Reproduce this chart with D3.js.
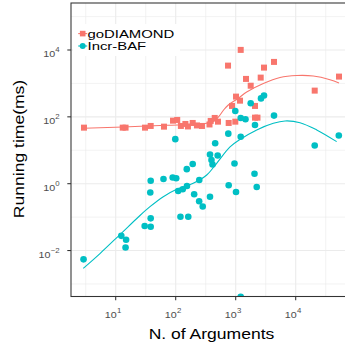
<!DOCTYPE html>
<html><head><meta charset="utf-8">
<script src="https://cdn.jsdelivr.net/npm/d3@7"></script>
<style>body{margin:0;background:#fff}svg{display:block}</style>
</head><body>
<svg id="c" width="345" height="349"></svg>
<script>
// ---- data ----
const seriesNames = ["goDIAMOND", "Incr-BAF"];
const seriesColors = ["#F8766D", "#00BFC4"];

const goDiamondPoints = [
  [2.96,47.5],[13.1,47.5],[14.6,47.5],[30.8,47.5],[38.3,53.4],[63.8,50.9],[90.2,76.9],[106,80.7],
  [122,53.4],[145,61.3],[160,51.6],[192,65.6],[226,55.3],[274,53.4],[366,59.2],[383,75.4],
  [447,92.7],[507,71.8],[745,3410],[764,65.6],[868,212],[985,71.8],[1012,403],[1180,305],
  [1212,10070],[1485,1364],[1778,853],[2097,212],[2097,94.6],[2307,94.6],[2610,1492],
  [2963,2972],[4350,4400],[20740,609],[52700,1600]
];
const incrBafPoints = [
  [2.91,0.00545],[12.4,0.0275],[14.9,0.021],[14.6,0.0123],[30.4,0.0542],[38.3,0.0516],[38.3,0.092],
  [37.7,0.545],[38.3,1.23],[62.6,1.38],[89.1,1.53],[102,1.45],[98.5,21.5],[110,0.604],[120,0.103],
  [131,0.679],[154,0.853],[153,2.72],[162,0.103],[192,3.89],[203,0.482],[247,1.29],[246,0.297],
  [282,0.207],[373,0.408],[373,7.48],[395,5.13],[411,3.76],[455,16.2],[501,6.98],[753,31.4],
  [764,0.895],[955,4.03],[985,150],[1012,0.564],[1212,25.5],[1212,92.7],[1212,0.000414],
  [1456,84.7],[1778,255],[2097,57.2],[2058,1.99],[2240,0.797],[2641,356],[2963,437],[4350,109],
  [20740,13.9],[52300,27.7]
];
// smoothed fits
const goDiamondFit = [
  [2.96,45.4],[13.4,49.7],[70.8,55.9],[210,59.9],[373,66.4],[435,73.6],[488,89.3],[548,113.6],
  [638,166],[753,226],[1105,359],[1525,554],[2884,995],[5474,1504],[10390,1726],[19650,1668],
  [37300,1293],[52700,1030]
];
const incrBafFit = [
  [2.88,0.00293],[5.47,0.00813],[11.8,0.0301],[25.4,0.112],[37.3,0.205],[62.1,0.408],[104,0.679],
  [196,1.03],[329,1.82],[482,4.08],[804,12.6],[1180,21.0],[2240,40.6],[4240,64.3],[6640,75.3],
  [11800,67.0],[22400,40.6],[48200,18.1]
];

const xTicks = [10, 100, 1000, 10000];
const xTickExp = ["1", "2", "3", "4"];
const xMinor = [Math.pow(10,0.5), Math.pow(10,1.5), Math.pow(10,2.5), Math.pow(10,3.5), Math.pow(10,4.5)];
const yTicks = [0.01, 1, 100, 10000];
const yTickExp = ["\u22122", "0", "2", "4"];
const yMinor = [0.001, 0.1, 10, 1000, 100000];

const xTitle = "N. of Arguments";
const yTitle = "Running time(ms)";

// ---- layout ----
const L = 71, R = 351.8, T = 3, B = 296.5;
const SX = 1.17; // horizontal text stretch to match the reference face

const svg = d3.select("#c");
const x = d3.scaleLog().domain([Math.pow(10,0.255), Math.pow(10,4.935)]).range([L, R]);
const y = d3.scaleLog().domain([Math.pow(10,-3.375), Math.pow(10,5.406)]).range([B, T]);

svg.append("defs").append("clipPath").attr("id","pc")
  .append("rect").attr("x",L).attr("y",T).attr("width",R-L).attr("height",B-T);

const grid = svg.append("g");
grid.selectAll(".xm").data(xMinor).join("line")
  .attr("x1",d=>x(d)).attr("x2",d=>x(d)).attr("y1",T).attr("y2",B)
  .attr("stroke","#EBEBEB").attr("stroke-width",0.6);
grid.selectAll(".ym").data(yMinor).join("line")
  .attr("y1",d=>y(d)).attr("y2",d=>y(d)).attr("x1",L).attr("x2",R)
  .attr("stroke","#EBEBEB").attr("stroke-width",0.6);
grid.selectAll(".xM").data(xTicks).join("line")
  .attr("x1",d=>x(d)).attr("x2",d=>x(d)).attr("y1",T).attr("y2",B)
  .attr("stroke","#EBEBEB").attr("stroke-width",1.1);
grid.selectAll(".yM").data(yTicks).join("line")
  .attr("y1",d=>y(d)).attr("y2",d=>y(d)).attr("x1",L).attr("x2",R)
  .attr("stroke","#EBEBEB").attr("stroke-width",1.1);

const panel = svg.append("g").attr("clip-path","url(#pc)");
panel.selectAll(".sq").data(goDiamondPoints).join("rect")
  .attr("x",d=>x(d[0])-3).attr("y",d=>y(d[1])-3).attr("width",6).attr("height",6)
  .attr("fill",seriesColors[0]);
panel.selectAll(".ci").data(incrBafPoints).join("circle")
  .attr("cx",d=>x(d[0])).attr("cy",d=>y(d[1])).attr("r",3.3)
  .attr("fill",seriesColors[1]);
const line = d3.line().x(d=>x(d[0])).y(d=>y(d[1])).curve(d3.curveCatmullRom.alpha(0.5));
panel.append("path").attr("d",line(goDiamondFit)).attr("fill","none")
  .attr("stroke",seriesColors[0]).attr("stroke-width",1.1);
panel.append("path").attr("d",line(incrBafFit)).attr("fill","none")
  .attr("stroke",seriesColors[1]).attr("stroke-width",1.1);

svg.append("rect").attr("x",L).attr("y",T).attr("width",R-L).attr("height",B-T)
  .attr("fill","none").attr("stroke","#333333").attr("stroke-width",1.07);

const font = "'Liberation Sans', Arial, Helvetica, sans-serif";
svg.selectAll(".xt").data(xTicks).join("line")
  .attr("x1",d=>x(d)).attr("x2",d=>x(d)).attr("y1",B).attr("y2",B+3.7)
  .attr("stroke","#333333").attr("stroke-width",1.07);
svg.selectAll(".yt").data(yTicks).join("line")
  .attr("y1",d=>y(d)).attr("y2",d=>y(d)).attr("x1",L-3.7).attr("x2",L)
  .attr("stroke","#333333").attr("stroke-width",1.07);

xTicks.forEach((t,i)=>{
  const g = svg.append("g").attr("transform",`translate(${x(t)+1},318) scale(1.12,1)`);
  g.append("text").attr("text-anchor","end").attr("font-family",font).attr("font-size",9.6)
    .attr("fill","#4D4D4D").text("10");
  g.append("text").attr("x",0.2).attr("y",-5.2).attr("text-anchor","start").attr("font-family",font)
    .attr("font-size",7).attr("fill","#4D4D4D").text(xTickExp[i]);
});
yTicks.forEach((t,i)=>{
  const g = svg.append("g").attr("transform",`translate(59.5,${y(t)+7}) scale(1.12,1)`);
  const tx = g.append("text").attr("text-anchor","end").attr("font-family",font)
    .attr("font-size",9.6).attr("fill","#4D4D4D");
  tx.append("tspan").text("10");
  tx.append("tspan").attr("dy",-4.6).attr("font-size",7).text(yTickExp[i]);
});

svg.append("text").attr("transform",`translate(211.5,339) scale(${SX},1)`)
  .attr("text-anchor","middle").attr("font-family",font).attr("font-size",15)
  .attr("fill","#000").text(xTitle);
svg.append("text").attr("transform",`translate(24,149) rotate(-90) scale(${SX},1)`)
  .attr("text-anchor","middle").attr("font-family",font).attr("font-size",15)
  .attr("fill","#000").text(yTitle);

const lg = svg.append("g");
lg.append("rect").attr("x",73).attr("y",24).attr("width",107).attr("height",32).attr("fill","#fff");
const keyY = [33.6, 46.0];
seriesNames.forEach((n,i)=>{
  lg.append("line").attr("x1",78.2).attr("x2",87.2).attr("y1",keyY[i]).attr("y2",keyY[i])
    .attr("stroke",seriesColors[i]).attr("stroke-width",1.1);
  if (i===0) {
    lg.append("rect").attr("x",82.7-2.8).attr("y",keyY[i]-2.8).attr("width",5.6).attr("height",5.6)
      .attr("fill",seriesColors[i]);
  } else {
    lg.append("circle").attr("cx",82.7).attr("cy",keyY[i]).attr("r",3).attr("fill",seriesColors[i]);
  }
  lg.append("text").attr("transform",`translate(87.5,${keyY[i]+4.1}) scale(1.33,1)`)
    .attr("font-family",font).attr("font-size",11.2).attr("fill","#000").text(n);
});
</script>
</body></html>
